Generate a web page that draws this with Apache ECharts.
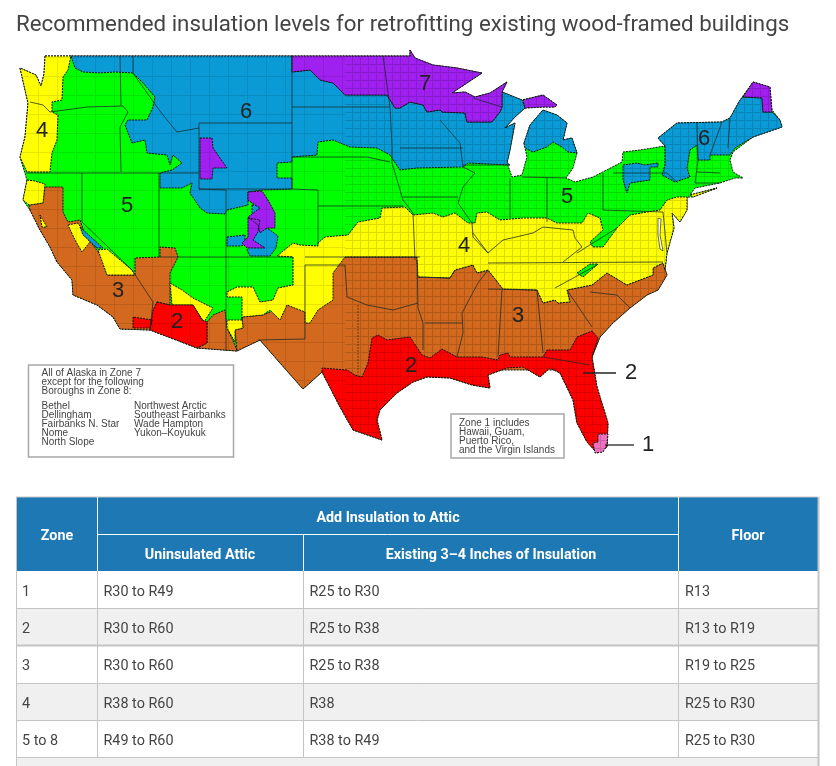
<!DOCTYPE html>
<html>
<head>
<meta charset="utf-8">
<style>html,body{margin:0;padding:0;background:#fff}#chart{width:836px;height:766px}</style>
<script src="https://cdn.jsdelivr.net/npm/echarts@6/dist/echarts.min.js"></script>
</head>
<body>
<div id="chart"></div>
<script>
// table contents
const zoneRows = ['1', '2', '3', '4', '5 to 8'];
const uninsulatedAttic = ['R30 to R49', 'R30 to R60', 'R30 to R60', 'R38 to R60', 'R49 to R60'];
const existingInsulation = ['R25 to R30', 'R25 to R38', 'R25 to R38', 'R38', 'R38 to R49'];
const floorValues = ['R13', 'R13 to R19', 'R19 to R25', 'R25 to R30', 'R25 to R30'];
const alaskaLeft = ['Bethel', 'Dellingham', 'Fairbanks N. Star', 'Nome', 'North Slope'];
const alaskaRight = ['Northwest Arctic', 'Southeast Fairbanks', 'Wade Hampton', 'Yukon\u2013Koyukuk'];
const alaskaIntro = ['All of Alaska in Zone 7', 'except for the following', 'Boroughs in Zone 8:'];
const zone1Note = ['Zone 1 includes', 'Hawaii, Guam,', 'Puerto Rico,', 'and the Virgin Islands'];

const zoneColors = { 1: '#f070c0', 2: '#ff0000', 3: '#d2691e', 4: '#ffff00', 5: '#00ff00', 6: '#0a9bd6', 7: '#a020f0' };

// map outlines (map units are picture pixels)
const usOutline = [[45,56],[120,56],[292,56],[410,56],[410,50],[415,58],[433,65],[457,68],[482,73],[452,93],[465,92],[475,97],[490,93],[507,82],[502,92],[522,100],[543,95],[557,105],[555,107],[543,107],[525,108],[515,117],[505,128],[515,123],[510,150],[507,163],[512,177],[522,175],[527,157],[524,143],[530,125],[543,110],[557,115],[567,123],[563,140],[572,138],[577,153],[573,168],[566,178],[575,182],[593,177],[622,162],[623,152],[640,150],[665,146],[658,138],[677,123],[722,122],[730,118],[740,100],[753,82],[770,87],[772,110],[780,120],[782,127],[753,137],[733,152],[730,160],[733,172],[743,178],[735,178],[720,183],[695,188],[690,195],[717,188],[693,197],[687,197],[687,210],[680,222],[672,213],[674,228],[667,253],[665,270],[667,275],[658,290],[647,295],[630,308],[613,323],[600,337],[592,357],[597,387],[608,423],[607,447],[597,453],[587,442],[577,423],[573,400],[560,373],[550,368],[540,377],[523,367],[507,368],[488,375],[490,388],[472,385],[450,378],[427,377],[413,382],[397,393],[380,410],[377,420],[382,440],[353,430],[340,407],[322,372],[303,389],[280,363],[260,340],[237,351],[197,348],[150,330],[120,329],[113,317],[97,305],[73,295],[72,280],[57,262],[50,247],[40,230],[30,210],[23,200],[27,180],[20,157],[25,137],[28,103],[20,68],[36,75],[41,86],[44,74]];

const zone3Shapes = [
  [[30,210],[29,205],[43,203],[45,187],[63,187],[63,212],[68,222],[80,220],[85,235],[97,250],[103,260],[107,275],[135,275],[135,258],[160,257],[160,247],[175,248],[178,257],[170,273],[170,305],[157,302],[150,330],[120,329],[113,317],[97,305],[73,295],[72,280],[57,262],[50,247],[40,230]],
  [[207,322],[213,315],[225,310],[227,328],[235,345],[237,351],[197,348],[207,343]],
  [[345,257],[417,257],[418,277],[450,278],[455,270],[473,265],[477,273],[488,270],[503,289],[537,290],[543,303],[555,300],[558,303],[570,302],[567,290],[592,285],[607,273],[627,285],[653,275],[653,268],[663,263],[667,275],[658,290],[647,295],[630,308],[613,323],[600,337],[592,357],[560,370],[400,370],[362,377],[322,372],[303,389],[280,363],[260,340],[237,351],[235,330],[243,328],[242,317],[263,315],[287,305]]
];
const zone4Shapes = [
  [[45,56],[71,56],[68,70],[63,77],[62,100],[52,102],[52,112],[58,115],[57,140],[52,153],[50,172],[27,172],[20,157],[25,137],[28,103],[20,68],[36,75],[41,86],[44,74]],
  [[27,180],[35,181],[45,184],[43,203],[29,205],[23,200]],
  [[40,215],[47,227],[42,227]],
  [[68,225],[78,223],[90,242],[82,252],[75,240]],
  [[98,250],[107,249],[132,270],[135,275],[107,275]],
  [[690,195],[717,188],[693,197]],
  [[277,256],[293,243],[300,245],[318,246],[318,243],[325,237],[348,235],[358,222],[380,218],[382,208],[405,207],[413,215],[433,213],[443,217],[455,213],[468,223],[475,223],[477,213],[487,212],[500,220],[523,218],[547,218],[557,223],[582,223],[588,213],[600,218],[603,230],[590,242],[593,247],[603,247],[617,228],[630,215],[647,212],[660,210],[667,200],[677,197],[687,197],[687,210],[680,222],[672,213],[674,228],[667,253],[665,270],[663,263],[653,268],[653,275],[627,285],[607,273],[592,285],[567,290],[570,302],[558,303],[555,300],[543,303],[537,290],[503,289],[488,270],[477,273],[473,265],[455,270],[450,278],[418,277],[417,257],[345,257],[333,273],[333,300],[318,310],[310,323],[305,323],[305,312],[287,305],[280,320],[270,310],[263,315],[242,317],[243,328],[235,330],[235,342],[227,328],[227,320],[242,320],[242,297],[227,297],[227,292],[237,287],[253,287],[260,302],[273,300],[278,288],[293,285],[293,257]],
  [[170,283],[182,290],[193,298],[213,308],[204,322],[193,305],[172,305]]
];
const zone5Patch = [[[577,273],[590,264],[598,264],[583,277]]];
const zone6Shapes = [
  [[71,56],[292,56],[292,72],[310,70],[320,80],[333,83],[345,95],[387,95],[395,108],[400,108],[410,102],[423,105],[427,112],[440,110],[442,112],[465,113],[467,122],[492,122],[500,112],[502,107],[502,92],[522,100],[525,108],[515,117],[505,128],[515,123],[510,150],[507,163],[510,165],[468,163],[463,167],[417,168],[400,170],[390,155],[377,148],[350,147],[333,140],[318,142],[317,155],[292,157],[292,162],[277,163],[277,178],[292,178],[292,189],[262,190],[248,192],[248,205],[227,210],[225,214],[207,213],[200,208],[190,193],[192,183],[182,188],[160,188],[160,173],[172,170],[182,163],[173,155],[170,165],[167,155],[147,153],[145,140],[132,143],[125,125],[128,120],[147,120],[153,107],[155,97],[143,83],[133,73],[115,72],[100,73],[83,72],[75,68]],
  [[524,143],[530,125],[543,110],[557,115],[567,123],[563,140],[572,138],[577,153],[568,152],[562,147],[553,142],[547,147],[533,152],[525,148]],
  [[665,146],[658,138],[677,123],[722,122],[730,118],[740,100],[743,97],[762,98],[763,112],[772,112],[780,120],[782,127],[753,137],[735,148],[730,155],[710,155],[710,160],[698,160],[697,145],[690,150],[687,168],[690,177],[675,182],[662,175],[665,165]],
  [[623,165],[637,163],[645,165],[658,163],[658,167],[650,167],[650,180],[630,183],[627,193],[623,180]],
  [[80,227],[103,248],[97,248],[83,235]],
  [[252,205],[264,205],[264,218],[252,218]],
  [[260,225],[270,230],[278,236],[276,248],[270,256],[250,256],[247,250],[253,238]],
  [[227,237],[245,235],[245,245],[240,246],[227,246]]
];
const zone7Shapes = [
  [[292,56],[410,56],[410,50],[415,58],[433,65],[457,68],[482,73],[452,93],[465,92],[475,97],[490,93],[507,82],[502,92],[502,107],[500,112],[492,122],[467,122],[465,113],[442,112],[440,110],[427,112],[423,105],[410,102],[400,108],[395,108],[387,95],[345,95],[333,83],[320,80],[310,70],[292,72]],
  [[523,100],[543,95],[557,105],[555,107],[543,107],[525,108]],
  [[743,97],[753,82],[770,87],[772,112],[763,112],[762,98]],
  [[200,138],[212,138],[213,148],[227,168],[213,168],[212,179],[200,179]],
  [[248,192],[262,191],[268,200],[275,213],[275,228],[267,228],[260,233],[258,225],[248,217],[260,208],[252,203],[248,200]],
  [[248,218],[260,220],[258,232],[253,240],[265,248],[247,248],[242,243],[248,237]]
];
const zone2Shapes = [
  [[157,302],[170,305],[193,305],[202,320],[207,322],[207,343],[197,348],[150,330],[152,320],[133,317],[133,328],[150,328],[152,317],[153,310]],
  [[322,372],[322,368],[347,370],[355,375],[362,377],[368,363],[372,338],[378,335],[387,340],[410,337],[422,355],[430,358],[442,349],[457,357],[482,357],[498,360],[500,355],[508,353],[510,357],[543,357],[547,350],[570,350],[577,337],[592,331],[598,338],[592,357],[597,387],[608,423],[607,447],[597,453],[587,442],[577,423],[573,400],[560,373],[550,368],[540,377],[523,367],[507,368],[488,375],[490,388],[472,385],[450,378],[427,377],[413,382],[397,393],[380,410],[377,420],[382,440],[353,430],[340,407]]
];
const zone1Shapes = [[[598,434],[608,434],[607,445],[603,452],[595,453],[593,443],[598,442]]];
const waterShapes = [[[658,218],[661,219],[660,235],[663,251],[660,249],[658,235]]];

const stateLines = [
  [[30,102],[43,105],[50,112],[87,107],[123,106]], [[123,106],[128,112],[120,127],[121,172]], [[26,173],[159,173],[199,173]],
  [[120,56],[121,106]], [[133,56],[133,73],[157,107],[163,115],[177,132],[199,128]],
  [[199,123],[292,123],[292,189],[199,189],[199,123]], [[292,56],[292,123]], [[292,107],[390,107]],
  [[292,157],[367,157],[390,162]], [[318,206],[403,206]], [[292,189],[318,190],[318,245]],
  [[159,173],[159,257]], [[199,189],[226,190],[226,351]], [[159,257],[293,257]], [[305,257],[420,257]],
  [[82,173],[82,222],[132,270],[153,302],[150,330]], [[305,265],[305,339],[258,340]], [[305,265],[345,265],[347,297],[367,305],[393,310],[418,303]],
  [[417,260],[418,308],[423,323],[423,350]], [[425,323],[463,323]], [[417,277],[450,278],[455,270]],
  [[488,270],[478,283],[462,313],[463,333],[457,357]], [[502,290],[498,357]], [[488,289],[537,290],[543,353]],
  [[543,357],[590,365]], [[567,290],[592,327]], [[590,292],[617,295],[630,308]], [[488,263],[663,262]],
  [[597,265],[555,288]], [[473,233],[488,253],[503,240],[533,233],[543,227],[573,230],[575,238],[582,247],[563,262]],
  [[510,178],[510,218]], [[547,178],[547,222]], [[463,165],[510,165]], [[522,177],[566,178]],
  [[403,197],[458,197]], [[463,167],[475,173],[463,187],[458,203],[472,223],[473,237],[488,253]], [[400,148],[463,148]],
  [[440,120],[460,143],[463,167]], [[383,56],[390,107],[392,147],[392,163],[403,200],[413,213],[415,260]],
  [[473,98],[502,107]], [[603,173],[603,210],[663,212]], [[613,173],[667,173],[678,183]], [[697,123],[698,160],[695,183]],
  [[722,122],[710,155]], [[730,118],[728,148]], [[697,172],[720,173]], [[695,183],[720,183]], [[577,253],[617,228]], [[663,212],[667,253]]
];
const dottedLines = [[[358,305],[358,375]]];

// pixel -> map unit, y flips because the geo projection points north up
const toGeo = p => [p[0], -p[1]];
function clipX(pts, limit, keepRight) {
  const inside = p => keepRight ? p[0] >= limit : p[0] <= limit;
  const out = [];
  pts.forEach((p, i) => {
    const q = pts[(i + 1) % pts.length];
    if (inside(p)) out.push(p);
    if (inside(p) !== inside(q)) {
      const t = (limit - p[0]) / (q[0] - p[0]);
      out.push([limit, p[1] + t * (q[1] - p[1])]);
    }
  });
  return out;
}
const feature = (name, shapes) => ({
  type: 'Feature',
  properties: { name },
  geometry: { type: 'MultiPolygon', coordinates: shapes.map(s => [s.concat([s[0]]).map(toGeo)]) }
});
const zoneLayers = [
  ['Zone 5', 5, [usOutline]], ['Zone 3', 3, zone3Shapes], ['Zone 4', 4, zone4Shapes], ['Zone 5 ridge', 5, zone5Patch],
  ['Zone 6', 6, zone6Shapes], ['Zone 7', 7, zone7Shapes], ['Zone 2', 2, zone2Shapes], ['Zone 1', 1, zone1Shapes]
];
const geoJson = {
  type: 'FeatureCollection',
  features: zoneLayers.map(z => feature(z[0], z[2])).concat([
    feature('Counties west', [clipX(usOutline, 345, false)]),
    feature('Counties east', [clipX(usOutline, 345, true)]),
    feature('Bay', waterShapes)
  ])
};
echarts.registerMap('zones', geoJson);

const gridDecal = (size, alpha) => ({
  symbol: 'rect', symbolSize: 1, color: 'rgba(0,0,0,' + alpha + ')',
  dashArrayX: [[size, 0], [1, size - 1]], dashArrayY: [1, 0, size - 1, 0]
});
const frame = { boundingCoords: [[0, 0], [836, -766]], left: 0, top: 0, width: 836, height: 766, aspectScale: 1, roam: false };

// ---- table and annotations, all as graphic elements
const FONT = 'Roboto, sans-serif';
const LABEL_FONT = '"Liberation Sans", Arial, sans-serif';
const colX = [16, 97, 303, 678, 818];
const rowY = [571, 608, 645, 683, 720, 757];
const gfx = [];
const rect = (x, y, w, h, fill, z) => gfx.push({ type: 'rect', z: z || 10, shape: { x, y, width: w, height: h }, style: { fill } });
const line = (x1, y1, x2, y2, stroke, w) => gfx.push({ type: 'line', z: 12, shape: { x1, y1, x2, y2 }, style: { stroke, lineWidth: w || 1 } });
const text = (x, y, t, font, fill, align) => gfx.push({ type: 'text', z: 13, x, y, style: { text: t, font, fill, textAlign: align || 'left', textVerticalAlign: 'middle' } });

rect(16, 497, 802, 74, '#1d78b4');
const BODY = '14.4px ' + FONT;
zoneRows.forEach((z, i) => {
  const mid = (rowY[i] + rowY[i + 1]) / 2 + 2.5;
  if (i % 2) rect(16, rowY[i], 802, rowY[i + 1] - rowY[i], '#f0f0f0');
  text(22, mid, z, BODY, '#444');
  text(103.5, mid, uninsulatedAttic[i], BODY, '#444');
  text(309.5, mid, existingInsulation[i], BODY, '#444');
  text(685, mid, floorValues[i], BODY, '#444');
});
rect(16, 757, 802, 9, '#f0f0f0');
rowY.slice(1).forEach((y, i) => line(16, y + 0.5, 819, y + 0.5, '#c4c4c4', i === 1 ? 2 : 1));
[colX[1], colX[2], colX[3]].forEach(x => line(x + 0.5, 571, x + 0.5, 757, '#c4c4c4'));
line(16.5, 497, 16.5, 766, '#c4c4c4');
line(818.5, 497, 818.5, 766, '#c4c4c4', 2);
line(16, 497, 818, 497, '#c4c4c4');
line(97.5, 497, 97.5, 571, '#fff');
line(303.5, 534, 303.5, 571, '#fff');
line(678.5, 497, 678.5, 571, '#fff');
line(97, 534.5, 678, 534.5, '#fff');
const HEAD = 'bold 14.3px ' + FONT;
text(57, 536, 'Zone', HEAD, '#fff', 'center');
text(388, 518, 'Add Insulation to Attic', HEAD, '#fff', 'center');
text(200, 555.5, 'Uninsulated Attic', HEAD, '#fff', 'center');
text(491, 555.5, 'Existing 3\u20134 Inches of Insulation', HEAD, '#fff', 'center');
text(748, 536, 'Floor', HEAD, '#fff', 'center');

const BOX_FONT = '10px ' + LABEL_FONT;
gfx.push({ type: 'rect', z: 13, shape: { x: 28.5, y: 365, width: 205, height: 92 }, style: { fill: '#fff', stroke: '#a8a8a8', lineWidth: 1.5 } });
alaskaIntro.forEach((s, i) => text(41.5, 373 + i * 9, s, BOX_FONT, '#444'));
alaskaLeft.forEach((s, i) => text(41.5, 406 + i * 9, s, BOX_FONT, '#444'));
alaskaRight.forEach((s, i) => text(134, 406 + i * 9, s, BOX_FONT, '#444'));
gfx.push({ type: 'rect', z: 13, shape: { x: 451, y: 414, width: 113, height: 44 }, style: { fill: '#fff', stroke: '#a8a8a8', lineWidth: 1.5 } });
zone1Note.forEach((s, i) => text(459, 423 + i * 9, s, BOX_FONT, '#444'));

const NUM = '22px ' + LABEL_FONT;
[['4', 42, 131], ['6', 246, 112], ['7', 425, 84], ['6', 704, 139], ['5', 127, 206], ['5', 567, 197], ['4', 464, 246],
 ['3', 118, 291], ['2', 177, 322], ['2', 411, 366], ['3', 518, 316], ['2', 631, 373], ['1', 648, 445]]
  .forEach(n => text(n[1], n[2], n[0], NUM, '#222', 'center'));
line(583, 373, 616, 373, '#222', 1.3);
line(605, 445, 634, 445, '#222', 1.3);

const chart = echarts.init(document.getElementById('chart'));
chart.setOption({
  animation: false,
  backgroundColor: '#fff',
  title: {
    text: 'Recommended insulation levels for retrofitting existing wood-framed buildings',
    left: 11, top: 9,
    textStyle: { fontFamily: FONT, fontSize: 22.3, fontWeight: 400, color: '#444' }
  },
  geo: Object.assign({ map: 'zones', silent: true, z: 0,
    itemStyle: { areaColor: 'rgba(0,0,0,0)', borderWidth: 0 } }, frame),
  graphic: gfx,
  series: [
    Object.assign({
      type: 'map', map: 'zones', silent: true, selectedMode: false, z: 2,
      label: { show: false },
      itemStyle: { borderColor: '#111', borderWidth: 1, borderType: [2, 1] },
      data: zoneLayers.map(z => ({ name: z[0], value: z[1], itemStyle: { areaColor: zoneColors[z[1]] } })).concat([
        { name: 'Counties west', itemStyle: { areaColor: 'rgba(0,0,0,0.001)', borderWidth: 0, decal: gridDecal(19, 0.1) } },
        { name: 'Counties east', itemStyle: { areaColor: 'rgba(0,0,0,0.001)', borderWidth: 0, decal: gridDecal(8, 0.14) } },
        { name: 'Bay', itemStyle: { areaColor: '#fff', borderWidth: 0.6, borderType: 'solid' } }
      ])
    }, frame),
    {
      type: 'lines', coordinateSystem: 'geo', polyline: true, silent: true, z: 4,
      lineStyle: { color: '#1a2a2a', width: 0.9, opacity: 0.85 },
      data: stateLines.map(l => ({ coords: l.map(toGeo) }))
    },
    {
      type: 'lines', coordinateSystem: 'geo', polyline: true, silent: true, z: 4,
      lineStyle: { color: '#111', width: 1, type: [2, 1] },
      data: dottedLines.map(l => ({ coords: l.map(toGeo) }))
    }
  ]
});
</script>
</body>
</html>
